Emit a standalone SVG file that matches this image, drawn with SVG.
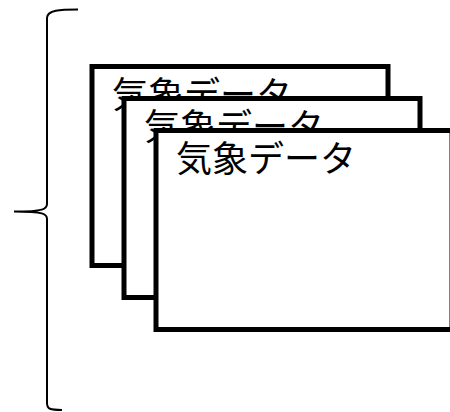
<svg xmlns="http://www.w3.org/2000/svg" width="450" height="412" viewBox="0 0 450 412">
<style>
.card{fill:#fff;stroke:#000;stroke-width:5;stroke-linejoin:miter}
.lbl{font-family:"Noto Sans CJK JP","Noto Sans",sans-serif;font-size:36px;fill:#000}
.brace{fill:none;stroke:#000;stroke-width:2}
</style>
<rect width="450" height="412" fill="#fff"/>
<g id="brace">
<path class="brace" d="M78,9.5 C60,9.5 47,10 47,18 L47,204 C47,209 44,211.5 14,211.5 C44,211.5 47,214 47,219 L47,403 C47,409 50,410 62,410"/>
</g>
<g id="card1">
<rect class="card" x="92" y="66.5" width="296" height="199"/>
<text class="lbl" x="112" y="108">気象データ</text>
</g>
<g id="card2">
<rect class="card" x="124" y="98.5" width="296" height="199"/>
<text class="lbl" x="144" y="140">気象データ</text>
</g>
<g id="card3">
<rect class="card" x="156" y="130.5" width="296" height="199"/>
<text class="lbl" x="176" y="172">気象データ</text>
</g>
<g id="connectors"/>
</svg>
